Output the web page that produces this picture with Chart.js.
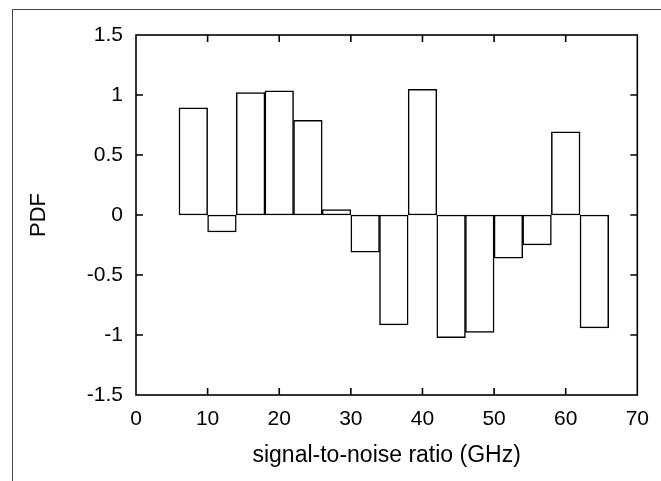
<!DOCTYPE html>
<html>
<head>
<meta charset="utf-8">
<script src="https://cdn.jsdelivr.net/npm/chart.js@4"></script>
<style>
    html, body { margin: 0; padding: 0; background: #fff; }
    #wrap { position: relative; width: 661px; height: 481px; }
</style>
</head>
<body>
<div id="wrap"><canvas id="pdfChart"></canvas></div>
<script>
// Data (bin centres, bin width 4)
const binCenters = [8, 12, 16, 20, 24, 28, 32, 36, 40, 44, 48, 52, 56, 60, 64];
const pdfValues = [0.894, -0.142, 1.02, 1.034, 0.788, 0.045, -0.31, -0.916, 1.048, -1.023, -0.978, -0.36, -0.249, 0.693, -0.941];
const xTicks = [0, 10, 20, 30, 40, 50, 60, 70];
const yTicks = [-1.5, -1, -0.5, 0, 0.5, 1, 1.5];

const fontFamily = '"Liberation Sans", Arial, Helvetica, sans-serif';

// gnuplot style frame: box round the plot with inward ticks on all sides
const boxPlugin = {
    id: 'gnuplotBox',
    beforeDraw(chart) {
        const ctx = chart.ctx;
        ctx.save();
        ctx.fillStyle = '#fff';
        ctx.fillRect(0, 0, chart.width, chart.height);
        // outer page frame (top and left edges only)
        ctx.strokeStyle = '#444';
        ctx.lineWidth = 1;
        ctx.beginPath();
        ctx.moveTo(12.5, chart.height);
        ctx.lineTo(12.5, 9.5);
        ctx.lineTo(chart.width, 9.5);
        ctx.stroke();
        ctx.restore();
    },
    afterDatasetsDraw(chart) {
        const { ctx, chartArea: a, scales: { x, y } } = chart;
        const len = 7;
        ctx.save();
        ctx.strokeStyle = '#000';
        ctx.lineWidth = 1.6;
        ctx.strokeRect(a.left, a.top, a.right - a.left, a.bottom - a.top);
        ctx.beginPath();
        xTicks.forEach(v => {
            const px = x.getPixelForValue(v);
            if (px <= a.left + 1 || px >= a.right - 1) return;
            ctx.moveTo(px, a.bottom); ctx.lineTo(px, a.bottom - len);
            ctx.moveTo(px, a.top); ctx.lineTo(px, a.top + len);
        });
        yTicks.forEach(v => {
            const py = y.getPixelForValue(v);
            if (py <= a.top + 1 || py >= a.bottom - 1) return;
            ctx.moveTo(a.left, py); ctx.lineTo(a.left + len, py);
            ctx.moveTo(a.right, py); ctx.lineTo(a.right - len, py);
        });
        ctx.stroke();
        ctx.restore();
    }
};

const ctx = document.getElementById('pdfChart').getContext('2d');
const pdfChart = new Chart(ctx, {
    type: 'bar',
    data: {
        datasets: [{
            label: 'PDF',
            data: binCenters.map((c, i) => ({ x: c, y: pdfValues[i] })),
            backgroundColor: '#fff',
            borderColor: '#000',
            borderWidth: 1.5,
            borderSkipped: false,
            barPercentage: 1.0,
            categoryPercentage: 1.0
        }]
    },
    options: {
        responsive: true,
        maintainAspectRatio: false,
        animation: false,
        layout: {
            padding: { left: 0, right: 21, top: 35, bottom: 0 }
        },
        plugins: {
            legend: { display: false },
            tooltip: { enabled: false }
        },
        scales: {
            x: {
                type: 'linear',
                offset: false,
                min: 0,
                max: 70,
                grid: { display: false, drawTicks: false },
                border: { display: false },
                afterBuildTicks: function(scale) {
                    scale.ticks = xTicks.map(v => ({ value: v }));
                },
                afterFit: function(scale) {
                    scale.height = 86;
                },
                ticks: {
                    padding: 12,
                    maxRotation: 0,
                    color: '#000',
                    font: { family: fontFamily, size: 21 },
                    callback: function(value) {
                        return String(value);
                    }
                },
                title: {
                    display: true,
                    text: 'signal-to-noise ratio (GHz)',
                    color: '#000',
                    font: { family: fontFamily, size: 23 },
                    padding: { top: 0, bottom: 12 }
                }
            },
            y: {
                min: -1.5,
                max: 1.5,
                grid: { display: false, drawTicks: false },
                border: { display: false },
                afterBuildTicks: function(scale) {
                    scale.ticks = yTicks.map(v => ({ value: v }));
                },
                afterFit: function(scale) {
                    scale.width = 136;
                },
                ticks: {
                    padding: 13,
                    color: '#000',
                    font: { family: fontFamily, size: 21 },
                    callback: function(value) {
                        return String(value);
                    }
                },
                title: {
                    display: true,
                    text: 'PDF',
                    color: '#000',
                    font: { family: fontFamily, size: 22 },
                    padding: { top: 26, bottom: 0 }
                }
            }
        }
    },
    plugins: [boxPlugin]
});
</script>
</body>
</html>
